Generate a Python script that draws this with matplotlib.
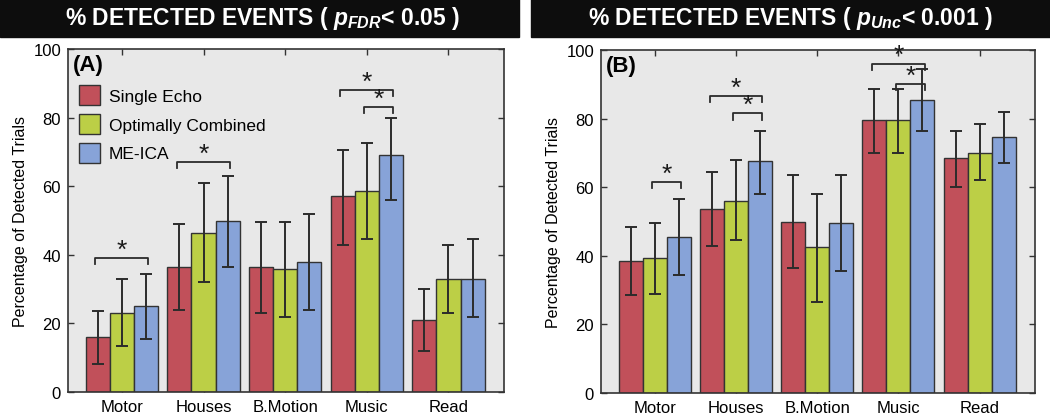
import numpy as np
import matplotlib
matplotlib.use("Agg")
import matplotlib.pyplot as plt
from matplotlib.patches import Patch

plt.rcParams['font.family'] = ['Liberation Sans', 'DejaVu Sans']
plt.rcParams['mathtext.fontset'] = 'custom'
plt.rcParams['mathtext.it'] = 'Liberation Sans:italic:bold'
plt.rcParams['mathtext.rm'] = 'Liberation Sans:bold'

categories = ['Motor', 'Houses', 'B.Motion', 'Music', 'Read']
methods = ['Single Echo', 'Optimally Combined', 'ME-ICA']
colors = ['#c1505a', '#bccf46', '#87a3d8']

# panel A (p_FDR < 0.05): means, lower and upper error ends
a_mean = [[16, 36.5, 36.5, 57, 21],
          [23, 46.5, 36, 58.5, 33],
          [25, 50, 38, 69, 33]]
a_lo = [[8.3, 24, 23, 43, 12],
        [13.5, 32, 22, 44.5, 23],
        [15.5, 36.5, 24, 56, 22]]
a_hi = [[23.5, 49, 49.5, 70.5, 30],
        [33, 61, 49.5, 72.5, 43],
        [34.5, 63, 52, 80, 44.5]]

# panel B (p_Unc < 0.001)
b_mean = [[38.5, 53.5, 50, 79.5, 68.5],
          [39.5, 56, 42.5, 79.5, 70],
          [45.5, 67.5, 49.5, 85.5, 74.5]]
b_lo = [[28.5, 43, 36.5, 70, 60],
        [29, 44.5, 26.5, 70, 62],
        [34.5, 58, 35.5, 76.5, 67]]
b_hi = [[48.5, 64.5, 63.5, 88.5, 76.5],
        [49.5, 68, 58, 88.5, 78.5],
        [56.5, 76.5, 63.5, 94.5, 82]]

# significance brackets: (group, first method, second method, height)
a_sig = [(0, 0, 2, 39), (1, 0, 2, 67), (3, 0, 2, 88), (3, 1, 2, 83)]
b_sig = [(0, 1, 2, 61.5), (1, 0, 2, 86.5), (1, 1, 2, 81.5), (3, 0, 2, 96), (3, 1, 2, 90)]

width = 0.295
offsets = [-width, 0, width]


def draw_panel(ax, mean, lo, hi, sig, label, legend=False):
    x = np.arange(1, len(categories) + 1)
    ax.set_facecolor('#e8e8e8')
    for k in range(3):
        m = np.array(mean[k])
        err = [m - np.array(lo[k]), np.array(hi[k]) - m]
        ax.bar(x + offsets[k], m, width, color=colors[k], edgecolor='#333333',
               linewidth=1.0, label=methods[k], zorder=2)
        ax.errorbar(x + offsets[k], m, yerr=err, fmt='none', ecolor='#2b2b2b',
                    elinewidth=1.4, capsize=4, capthick=1.4, zorder=3)
    for g, i, j, h in sig:
        x1 = x[g] + offsets[i] - 0.03
        x2 = x[g] + offsets[j] + 0.03
        ax.plot([x1, x1, x2, x2], [h - 1.8, h, h, h - 1.8], color='#2b2b2b',
                lw=1.3, zorder=3, clip_on=False)
        ax.text((x1 + x2) / 2, h - 1.0, '*', ha='center', va='bottom',
                fontsize=19, color='#1a1a1a', clip_on=False)
    ax.set_xlim(0.34, 5.68)
    ax.set_ylim(0, 100)
    ax.set_xticks(x)
    ax.set_xticklabels(categories, fontsize=12)
    ax.set_yticks(np.arange(0, 101, 20))
    ax.tick_params(axis='y', labelsize=12)
    ax.tick_params(direction='in', length=4, width=1.0, top=True, right=True,
                   color='#333333', pad=5)
    ax.set_ylabel('Percentage of Detected Trials', fontsize=11.5)
    for s in ax.spines.values():
        s.set_color('#333333')
        s.set_linewidth(1.2)
    ax.text(0.012, 0.985, label, transform=ax.transAxes, ha='left', va='top',
            fontsize=16, fontweight='bold')
    if legend:
        handles = [Patch(facecolor=colors[k], edgecolor='#333333', label=methods[k])
                   for k in range(3)]
        ax.legend(handles=handles, loc='upper left', bbox_to_anchor=(-0.01, 0.94),
                  frameon=False, fontsize=12.5, handlelength=1.2, handleheight=1.4,
                  handletextpad=0.5, labelspacing=0.5)


fig = plt.figure(figsize=(10.5, 4.14), dpi=100)

# black title banners
fig.patches.append(plt.Rectangle((0, 1 - 38 / 414), 519 / 1050, 38 / 414,
                                 transform=fig.transFigure, color='#0d0d0d', zorder=0))
fig.patches.append(plt.Rectangle((531 / 1050, 1 - 38 / 414), 519 / 1050, 38 / 414,
                                 transform=fig.transFigure, color='#0d0d0d', zorder=0))
fig.text(262 / 1050, 1 - 19 / 414, r'% DETECTED EVENTS ( $\mathit{p}_{\mathit{FDR}}$< 0.05 )',
         color='white', fontsize=16.5, fontweight='bold', ha='center', va='center')
fig.text(790 / 1050, 1 - 19 / 414, r'% DETECTED EVENTS ( $\mathit{p}_{\mathit{Unc}}$< 0.001 )',
         color='white', fontsize=16.5, fontweight='bold', ha='center', va='center')

ax1 = fig.add_axes([68 / 1050, 1 - 393 / 414, 436 / 1050, 343 / 414])
ax2 = fig.add_axes([601 / 1050, 1 - 394 / 414, 434 / 1050, 343 / 414])

draw_panel(ax1, a_mean, a_lo, a_hi, a_sig, '(A)', legend=True)
draw_panel(ax2, b_mean, b_lo, b_hi, b_sig, '(B)')

fig.savefig('out.png', dpi=100)
